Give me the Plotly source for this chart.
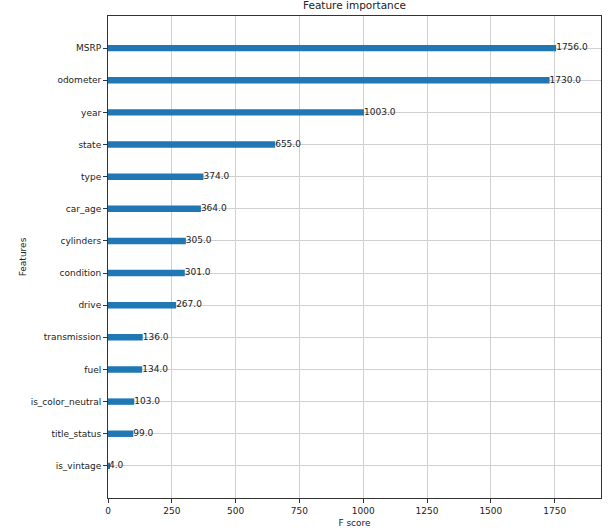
import plotly.graph_objects as go

# feature importance (F score), listed top to bottom as in the picture
features = ["MSRP", "odometer", "year", "state", "type", "car_age", "cylinders",
            "condition", "drive", "transmission", "fuel", "is_color_neutral",
            "title_status", "is_vintage"]
scores = [1756, 1730, 1003, 655, 374, 364, 305, 301, 267, 136, 134, 103, 99, 4]

# plot bottom-up like matplotlib barh
feat_plot = features[::-1]
score_plot = scores[::-1]
labels = ["{:.1f}".format(s) for s in score_plot]

fig = go.Figure()
fig.add_trace(go.Bar(x=score_plot, y=feat_plot, orientation="h",
                     width=0.2, marker=dict(color="#1f77b4", line=dict(width=0)),
                     hoverinfo="x+y"))
fig.add_trace(go.Scatter(x=score_plot, y=feat_plot, mode="text", text=labels,
                         textposition="middle right",
                         textfont=dict(size=9, color="#222222"),
                         hoverinfo="skip", cliponaxis=False))

font = "DejaVu Sans, sans-serif"
fig.update_layout(
    width=615, height=531,
    margin=dict(l=108, r=14, t=16, b=33),
    plot_bgcolor="white", paper_bgcolor="white",
    showlegend=False,
    font=dict(family=font, size=9, color="#222222"),
    title=dict(text="Feature importance", x=0.5, xref="paper", y=0.997,
               yanchor="top", font=dict(size=10.5, color="#222222")),
)
fig.update_xaxes(range=[0, max(scores) * 1.1], tickvals=[0, 250, 500, 750, 1000, 1250, 1500, 1750],
                 automargin=False,
                 showgrid=True, gridcolor="#d0d0d0", gridwidth=1,
                 zeroline=False, showline=True, linecolor="#333333", mirror=True,
                 ticks="outside", ticklen=4, tickcolor="#333333",
                 title=dict(text="F score", standoff=4, font=dict(size=9)))
fig.update_yaxes(type="category", categoryorder="array", categoryarray=feat_plot,
                 range=[-1, len(features)], automargin=False,
                 showgrid=True, gridcolor="#d0d0d0", gridwidth=1,
                 showline=True, linecolor="#333333", mirror=True,
                 ticks="outside", ticklen=4, tickcolor="#333333",
                 title=dict(text="Features", standoff=2, font=dict(size=9)))

# drop the page's default body margin so the figure sits at the window corner
fig.write_html("out.html", config={"displayModeBar": False},
               post_script="document.body.style.margin='0';")
